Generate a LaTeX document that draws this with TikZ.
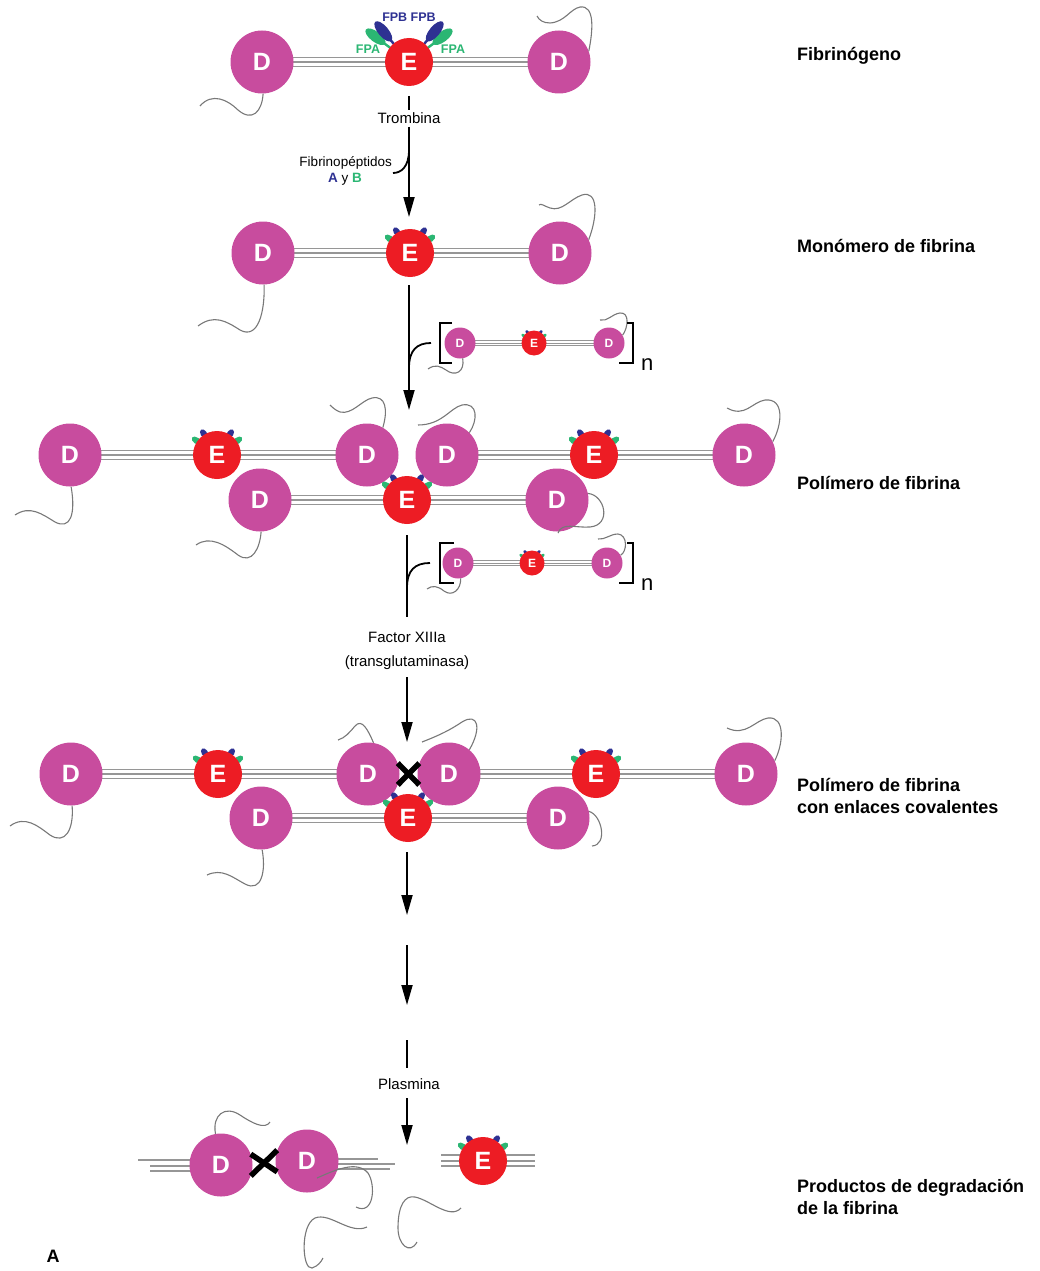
\documentclass[tikz,border=0pt]{standalone}
\usepackage{fontspec}
\setmainfont{Liberation Sans}
\usetikzlibrary{arrows.meta,calc,backgrounds}

\definecolor{dmag}{RGB}{200,76,158}
\definecolor{ered}{RGB}{237,28,36}
\definecolor{fpbblue}{RGB}{46,49,146}
\definecolor{fpagreen}{RGB}{43,182,115}
\definecolor{rodgray}{RGB}{150,150,150}
\definecolor{tailgray}{RGB}{120,120,120}

\tikzset{
  dom/.style={circle, fill=dmag, text=white, minimum size=63pt, inner sep=0pt,
    font=\fontsize{25}{25}\selectfont\bfseries},
  edom/.style={circle, fill=ered, text=white, minimum size=48pt, inner sep=0pt,
    font=\fontsize{25}{25}\selectfont\bfseries},
  sdom/.style={dom, minimum size=31pt, font=\fontsize{12}{12}\selectfont\bfseries},
  sedom/.style={edom, minimum size=25pt, font=\fontsize{12}{12}\selectfont\bfseries},
  rod/.style={draw=rodgray, line width=9.6pt,
    postaction={draw=white, line width=7.2pt},
    postaction={draw=rodgray, line width=1.2pt}},
  srod/.style={draw=rodgray, line width=5.8pt,
    postaction={draw=white, line width=3.8pt},
    postaction={draw=rodgray, line width=1pt}},
  rodline/.style={draw=rodgray, line width=1.2pt},
  tail/.style={draw=tailgray, line width=1.1pt},
  link/.style={line width=1.8pt},
  flow/.style={link, -{Triangle[length=20pt,width=11pt]}},
  xlink/.style={line width=5.5pt},
  bracket/.style={line width=1.8pt},
  steplabel/.style={font=\fontsize{15}{24}\selectfont, align=center, inner sep=2pt},
  stage/.style={font=\fontsize{18}{21.5}\selectfont\bfseries, align=left,
    anchor=west, inner sep=0pt}
}

% stubs left on the E domain once the fibrinopeptides are gone
\newcommand{\knobs}[2]{%
  \begin{scope}[shift={(#1)}, scale=#2]
    \foreach \a in {35,145} \fill[fpagreen, rotate=\a] (25,0) ellipse (5.5 and 3.2);
    \foreach \a in {58,122} \fill[fpbblue, rotate=\a] (25,0) ellipse (5 and 3.2);
  \end{scope}}

% fibrin monomer D-E-D, #2 = centre of the left D
\newcommand{\fibrina}[2]{%
  \node[dom] (#1a) at (#2) {D};
  \node[dom] (#1c) at ($(#2)+(297,0)$) {D};
  \knobs{$(#2)+(147,0)$}{1}
  \node[edom] (#1b) at ($(#2)+(147,0)$) {E};
  \begin{scope}[on background layer]
    \draw[rod] (#1a.center) -- (#1c.center);
  \end{scope}}

% same, small (the n monomers joining in)
\newcommand{\fibrinita}[2]{%
  \node[sdom] (#1a) at (#2) {D};
  \node[sdom] (#1c) at ($(#2)+(149,0)$) {D};
  \knobs{$(#2)+(74,0)$}{0.5}
  \node[sedom] (#1b) at ($(#2)+(74,0)$) {E};
  \begin{scope}[on background layer]
    \draw[srod] (#1a.center) -- (#1c.center);
  \end{scope}}

\begin{document}
\begin{tikzpicture}[x=1pt, y=-1pt]
\useasboundingbox (0,0) rectangle (1039,1271);

% --- fibrinogen
\node[dom] (fga) at (262,62) {D};
\node[dom] (fgc) at (559,62) {D};
\begin{scope}[shift={(409,62)}]
  \foreach \a in {37,143} {
    \draw[fpagreen, line width=2.4pt, rotate=\a] (0,0) -- (40,0);
    \fill[fpagreen, rotate=\a] (42,0) ellipse (12 and 5.2);}
  \foreach \a in {50,130} {
    \draw[fpbblue, line width=2.4pt, rotate=\a] (0,0) -- (38,0);
    \fill[fpbblue, rotate=\a] (40,0) ellipse (12.5 and 5.2);}
\end{scope}
\node[edom] (fgb) at (409,62) {E};
\begin{scope}[on background layer]
  \draw[rod] (fga.center) -- (fgc.center);
\end{scope}
\node[font=\fontsize{12.5}{13}\selectfont\bfseries, text=fpbblue] (fpb) at (409,17.5) {FPB FPB};
\node[font=\fontsize{12.5}{13}\selectfont\bfseries, text=fpagreen] (fpal) at (368,49) {FPA};
\node[font=\fontsize{12.5}{13}\selectfont\bfseries, text=fpagreen] (fpar) at (453,49) {FPA};
\draw[tail] (fga.-88) .. controls (262,112) and (252,122) .. (238,110)
  .. controls (228,100) and (212,92) .. (200,106);
\draw[tail] (fgc.20) .. controls (593,30) and (595,5) .. (580,7)
  .. controls (570,9) and (565,22) .. (550,23) .. controls (543,23) and (539,20) .. (537,16);

% thrombin step
\coordinate (a1s) at (409,96);
\coordinate (a1m) at (409,110);
\coordinate (a1t) at (409,127);
\coordinate (a1e) at (409,217);
\coordinate (a1b) at (409,150);
\coordinate (fpo) at (393,173);
\node[steplabel] (trombina) at (409,118) {Trombina};
\draw[link] (a1s) -- (a1m);
\draw[flow] (a1t) -- (a1e);
\draw[link] (a1b) .. controls (409,167) and (401,173) .. (fpo);
\node[font=\fontsize{13.5}{16}\selectfont, anchor=east, inner sep=0pt] (fpt) at (392,163) {Fibrinopéptidos};
\node[font=\fontsize{13.5}{16}\selectfont, inner sep=0pt] (fab) at (345,179)
  {{\color{fpbblue}\bfseries A} y {\color{fpagreen}\bfseries B}};

% --- monomer
\fibrina{mn}{263,253}
\draw[tail] (mna.-88) .. controls (265,312) and (258,340) .. (240,330)
  .. controls (226,321) and (214,314) .. (198,326);
\draw[tail] (mnc.25) .. controls (598,215) and (598,190) .. (582,195)
  .. controls (570,199) and (562,212) .. (550,208) .. controls (544,206) and (541,203) .. (539,205);

% polymerisation step
\coordinate (a2s) at (409,285);
\coordinate (a2e) at (409,410);
\coordinate (a2b) at (409,368);
\coordinate (s1in) at (431,343);
\draw[flow] (a2s) -- (a2e);
\draw[link] (a2b) .. controls (409,350) and (417,343) .. (s1in);
\fibrinita{sa}{460,343}
\draw[tail] (saa.-80) .. controls (465,372) and (455,377) .. (446,370)
  .. controls (440,366) and (435,364) .. (428,369);
\draw[tail] (sac.30) .. controls (628,328) and (630,312) .. (620,313)
  .. controls (612,314) and (607,322) .. (600,320);
\draw[bracket] (452,323) -- (440,323) -- (440,363) -- (452,363);
\draw[bracket] (627,323) -- (633,323) -- (633,363) -- (619,363);
\node[font=\fontsize{22}{22}\selectfont, anchor=base west, inner sep=0pt] (na) at (641,370) {n};

% --- polymer
\fibrina{pa}{70,455}
\fibrina{pb}{447,455}
\fibrina{pc}{260,500}
\draw[tail] (paa.-88) .. controls (76,515) and (70,530) .. (55,522)
  .. controls (42,514) and (30,505) .. (15,515);
\draw[tail] (pac.60) .. controls (388,410) and (386,395) .. (372,398)
  .. controls (362,400) and (352,415) .. (340,412) .. controls (335,410) and (332,407) .. (330,405);
\draw[tail] (pba.45) .. controls (478,420) and (478,402) .. (462,405)
  .. controls (450,408) and (442,425) .. (418,425);
\draw[tail] (pbc.25) .. controls (782,425) and (785,398) .. (765,400)
  .. controls (752,402) and (745,418) .. (727,408);
\draw[tail] (pca.-88) .. controls (260,548) and (252,565) .. (238,555)
  .. controls (225,545) and (210,535) .. (196,545);
\draw[tail] (pcc.12) .. controls (605,495) and (612,525) .. (590,527)
  .. controls (575,528) and (562,522) .. (558,533);

% cross-linking step
\coordinate (a3s) at (407,535);
\coordinate (a3m) at (407,617);
\coordinate (a3t) at (407,677);
\coordinate (a3e) at (407,742);
\coordinate (a3b) at (407,588);
\coordinate (s2in) at (430,563);
\draw[link] (a3s) -- (a3m);
\draw[link] (a3b) .. controls (407,570) and (415,563) .. (s2in);
\fibrinita{sb}{458,563}
\draw[tail] (sba.-80) .. controls (461,590) and (452,597) .. (444,591)
  .. controls (438,586) and (432,585) .. (427,589);
\draw[tail] (sbc.30) .. controls (627,552) and (628,535) .. (618,534)
  .. controls (610,534) and (605,540) .. (598,539);
\draw[bracket] (454,543) -- (440,543) -- (440,583) -- (454,583);
\draw[bracket] (627,543) -- (633,543) -- (633,583) -- (619,583);
\node[font=\fontsize{22}{22}\selectfont, anchor=base west, inner sep=0pt] (nb) at (641,590) {n};
\node[steplabel] (factor) at (407,650.5) {Factor XIIIa\\(transglutaminasa)};
\draw[flow] (a3t) -- (a3e);

% --- cross-linked polymer
\fibrina{qa}{71,774}
\fibrina{qb}{449,774}
\fibrina{qc}{261,818}
\draw[xlink] (qac.20) -- (qba.-160);
\draw[xlink] (qac.-20) -- (qba.160);
\draw[tail] (qaa.-88) .. controls (74,830) and (65,845) .. (50,835)
  .. controls (38,826) and (25,815) .. (10,826);
\draw[tail] (qac.80) .. controls (368,730) and (362,718) .. (355,726)
  .. controls (350,732) and (345,738) .. (338,740);
\draw[tail] (qba.50) .. controls (482,728) and (478,712) .. (462,722)
  .. controls (450,730) and (440,735) .. (422,742);
\draw[tail] (qbc.25) .. controls (783,745) and (786,716) .. (768,718)
  .. controls (755,720) and (746,737) .. (727,728);
\draw[tail] (qca.-88) .. controls (266,870) and (262,893) .. (245,884)
  .. controls (232,877) and (222,868) .. (207,875);
\draw[tail] (qcc.12) .. controls (602,815) and (608,845) .. (592,846);

% plasmin steps
\coordinate (a4s) at (407,852);
\coordinate (a4e) at (407,915);
\coordinate (a5s) at (407,945);
\coordinate (a5e) at (407,1005);
\coordinate (a6s) at (407,1040);
\coordinate (a6m) at (407,1068);
\coordinate (a6t) at (407,1098);
\coordinate (a6e) at (407,1145);
\draw[flow] (a4s) -- (a4e);
\draw[flow] (a5s) -- (a5e);
\draw[link] (a6s) -- (a6m);
\node[steplabel] (plasmina) at (409,1084) {Plasmina};
\draw[flow] (a6t) -- (a6e);

% --- degradation products
\node[dom] (fda) at (221,1165) {D};
\node[dom] (fdb) at (307,1161) {D};
\begin{scope}[on background layer]
  \foreach \xa/\ya in {138/1160, 150/1166, 150/1171} \draw[rodline] (\xa,\ya) -- (221,\ya);
  \foreach \xb/\yb in {378/1159, 395/1164, 390/1169} \draw[rodline] (307,\yb) -- (\xb,\yb);
  \foreach \ye in {1155,1161,1166} \draw[rodline] (441,\ye) -- (535,\ye);
\end{scope}
\draw[xlink] (fda.20) -- (fdb.-160);
\draw[xlink] (fda.-20) -- (fdb.160);
\knobs{483,1161}{1}
\node[edom] (fde) at (483,1161) {E};
\draw[tail] (fda.100) .. controls (212,1115) and (225,1105) .. (240,1115)
  .. controls (252,1123) and (265,1130) .. (270,1122);
\draw[tail] (317,1178) .. controls (335,1170) and (357,1160) .. (368,1173)
  .. controls (376,1185) and (374,1216) .. (356,1207);
\draw[tail] (367,1227) .. controls (350,1235) and (330,1212) .. (315,1218)
  .. controls (300,1225) and (302,1270) .. (312,1268) .. controls (318,1266) and (321,1262) .. (323,1258);
\draw[tail] (417,1242) .. controls (410,1255) and (398,1245) .. (398,1228)
  .. controls (398,1205) and (405,1195) .. (415,1197) .. controls (430,1200) and (450,1220) .. (461,1208);

% stage names
\node[stage] (lfg) at (797,56) {Fibrinógeno};
\node[stage] (lmn) at (797,246) {Monómero de fibrina};
\node[stage] (lpo) at (797,483) {Polímero de fibrina};
\node[stage] (lpx) at (797,796) {Polímero de fibrina\\con enlaces covalentes};
\node[stage] (lpd) at (797,1197) {Productos de degradación\\de la fibrina};
\node[font=\fontsize{18}{18}\selectfont\bfseries, inner sep=0pt] (panel) at (53,1256) {A};
\end{tikzpicture}
\end{document}
